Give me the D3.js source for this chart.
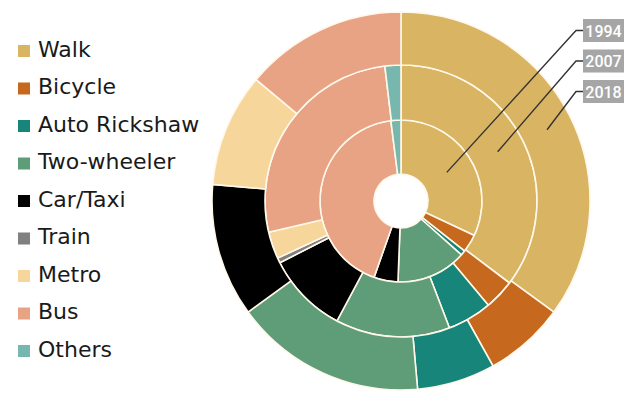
<!DOCTYPE html>
<html>
<head>
<meta charset="utf-8">
<script src="https://cdn.jsdelivr.net/npm/d3@7"></script>
<style>
  body { margin: 0; background: #fff; }
  svg { display: block; }
</style>
</head>
<body>
<div id="chart"></div>
<script>
// mode share, % of trips
var modes = ['Walk', 'Bicycle', 'Auto Rickshaw', 'Two-wheeler', 'Car/Taxi', 'Train', 'Metro', 'Bus', 'Others'];
var colors = ['#d8b463', '#c6691f', '#17857a', '#5e9d78', '#000000', '#808080', '#f6d69b', '#e8a284', '#78b7ae'];
var years = ['1994', '2007', '2018'];
var share1994 = [32, 3.6, 1, 14, 4.8, 0, 0, 42.6, 2];
var share2007 = [35.3, 3.6, 5.3, 13.6, 9.7, 0.6, 3.2, 26.8, 1.9];
var share2018 = [35, 6.9, 6.7, 16.4, 11.4, 0, 9.7, 13.9, 0];
var shares = [share1994, share2007, share2018];

var width = 639, height = 398;
var cx = 401, cy = 201;
// ring edges: hole, 1994, 2007, 2018
var radii = [27, 81, 136, 189];

var svg = d3.select('#chart').append('svg')
  .attr('width', width)
  .attr('height', height);

var color = d3.scaleOrdinal().domain(modes).range(colors);

var pie = d3.pie()
  .sort(null)
  .value(function(d) { return d.value; });

var g = svg.append('g')
  .attr('transform', 'translate(' + cx + ',' + cy + ')');

shares.forEach(function(vals, i) {
  var data = modes.map(function(m, j) { return {mode: m, value: vals[j]}; });
  var arcs = pie(data).filter(function(d) { return d.data.value > 0; });
  var arc = d3.arc().innerRadius(radii[i]).outerRadius(radii[i + 1]);
  g.append('g').selectAll('path')
    .data(arcs)
    .enter()
    .append('path')
      .attr('d', arc)
      .attr('fill', function(d) { return color(d.data.mode); })
      .attr('stroke', '#fff8ea')
      .attr('stroke-width', 1.6)
      .attr('stroke-linejoin', 'round');
});

// year call-outs
var calloutAngle = [58, 63, 64];
var boxY = d3.scaleLinear().domain([0, 1]).range([19, 49.5]);
years.forEach(function(y, i) {
  var r = (radii[i] + radii[i + 1]) / 2;
  var a = calloutAngle[i] * Math.PI / 180;
  var px = cx + r * Math.sin(a), py = cy - r * Math.cos(a);
  var top = boxY(i);
  var my = top + 11.5;
  svg.append('polyline')
    .attr('points', [[px, py], [576, my], [583, my]].map(function(p) { return p.join(','); }).join(' '))
    .attr('fill', 'none')
    .attr('stroke', '#333')
    .attr('stroke-width', 1.4);
  svg.append('rect')
    .attr('x', 583).attr('y', top)
    .attr('width', 41).attr('height', 23)
    .attr('fill', '#a6a6a6');
  svg.append('text')
    .attr('x', 603.5).attr('y', my + 6)
    .attr('text-anchor', 'middle')
    .attr('font-family', 'Roboto, sans-serif')
    .attr('font-size', 16)
    .attr('font-weight', 500)
    .attr('fill', '#fff')
    .text(y);
});

// legend
var legendY = d3.scalePoint().domain(modes).range([56.5, 356.5]);
var legend = svg.append('g').selectAll('g')
  .data(modes)
  .enter()
  .append('g')
    .attr('transform', function(d) { return 'translate(0,' + legendY(d) + ')'; });
legend.append('rect')
  .attr('x', 18).attr('y', -11.5)
  .attr('width', 12).attr('height', 12)
  .attr('fill', function(d) { return color(d); });
legend.append('text')
  .attr('x', 38).attr('y', 0)
  .attr('font-family', '"DejaVu Sans", sans-serif')
  .attr('font-size', 22)
  .attr('fill', '#1a1a1a')
  .text(function(d) { return d; });
</script>
</body>
</html>
